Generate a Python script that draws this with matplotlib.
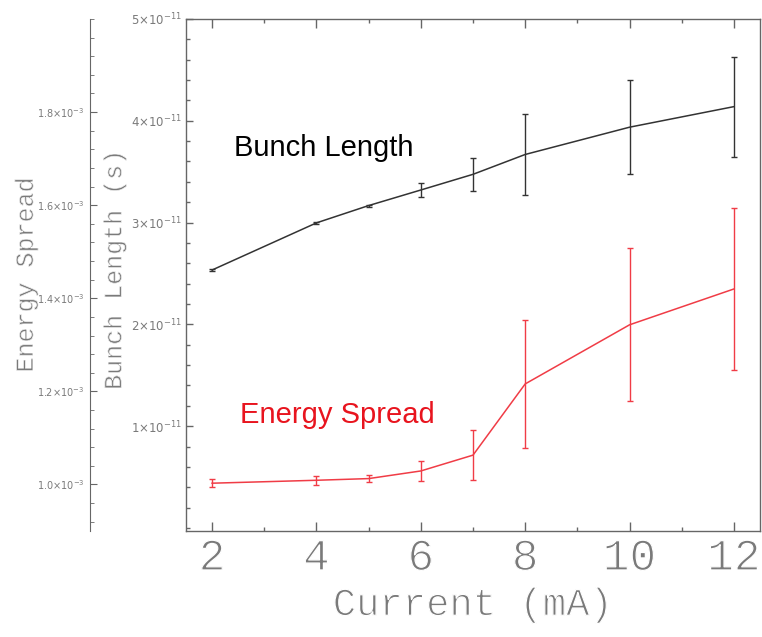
import numpy as np
import matplotlib
matplotlib.use('Agg')
import matplotlib.pyplot as plt
import matplotlib.patheffects as pe
from matplotlib.ticker import FixedLocator, FixedFormatter, MultipleLocator

# data
current = [2, 4, 5, 6, 7, 8, 10, 12]
bunch_length = [2.534e-11, 2.997e-11, 3.167e-11, 3.32e-11, 3.474e-11, 3.669e-11, 3.937e-11, 4.139e-11]
bunch_err = [0.008e-11, 0.012e-11, 0.01e-11, 0.065e-11, 0.16e-11, 0.40e-11, 0.46e-11, 0.49e-11]
energy_spread = [1.0027e-3, 1.009e-3, 1.0126e-3, 1.029e-3, 1.063e-3, 1.216e-3, 1.343e-3, 1.420e-3]
energy_err = [0.0086e-3, 0.0093e-3, 0.0082e-3, 0.022e-3, 0.053e-3, 0.137e-3, 0.164e-3, 0.174e-3]

x_ticks = [2, 4, 6, 8, 10, 12]
bl_ticks = [1e-11, 2e-11, 3e-11, 4e-11, 5e-11]
bl_labels = [r'$1{\times}10^{-11}$', r'$2{\times}10^{-11}$', r'$3{\times}10^{-11}$',
             r'$4{\times}10^{-11}$', r'$5{\times}10^{-11}$']
es_ticks = [1.0e-3, 1.2e-3, 1.4e-3, 1.6e-3, 1.8e-3]
es_labels = [r'$1.0{\times}10^{-3}$', r'$1.2{\times}10^{-3}$', r'$1.4{\times}10^{-3}$',
             r'$1.6{\times}10^{-3}$', r'$1.8{\times}10^{-3}$']

axis_col = '#666666'
label_col = '#7a7a7a'
mono = 'Liberation Mono'
# thin the glyphs a little by stroking a white outline over them
thin_big = [pe.Normal(), pe.Stroke(linewidth=0.9, foreground='white')]
thin_mid = [pe.Normal(), pe.Stroke(linewidth=0.5, foreground='white')]

fig = plt.figure(figsize=(7.62, 6.37), dpi=100)
ax = fig.add_axes([0.2441, 0.1664, 0.7533, 0.8038])

ax.errorbar(current, bunch_length, yerr=bunch_err, color='#333333', lw=1.1,
            elinewidth=1.0, capsize=2.5, capthick=1.0)
ax.set_xlim(1.5, 12.5)
ax.set_ylim(-0.03e-11, 5e-11)

for s in ax.spines.values():
    s.set_color(axis_col)
    s.set_linewidth(1.0)

ax.xaxis.set_major_locator(FixedLocator(x_ticks))
ax.xaxis.set_minor_locator(MultipleLocator(1))
ax.yaxis.set_major_locator(FixedLocator(bl_ticks))
ax.yaxis.set_major_formatter(FixedFormatter(bl_labels))
ax.yaxis.set_minor_locator(MultipleLocator(0.2e-11))
ax.tick_params(which='both', direction='in', top=True, right=True, colors=axis_col)
ax.tick_params(axis='x', which='major', length=6.5, width=1.0, labelsize=32,
               labelcolor=label_col, pad=5)
ax.tick_params(axis='x', which='minor', length=3, width=1.0)
ax.tick_params(axis='y', which='major', length=5, width=1.0, labelsize=8.5,
               labelcolor=label_col, pad=3)
ax.tick_params(axis='y', which='minor', length=3, width=1.0)
for t in ax.get_xticklabels():
    t.set_fontfamily(mono)
    t.set_path_effects(thin_big)

ax.set_xlabel('Current (mA)', fontsize=28, family=mono, color=label_col,
              labelpad=6, path_effects=thin_big)
ax.set_ylabel('Bunch Length (s)', fontsize=18, family=mono, color=label_col,
              path_effects=thin_mid)
ax.yaxis.set_label_coords(-0.104, 0.51)

# energy spread on a second axis with its spine moved left
ax2 = ax.twinx()
ax2.errorbar(current, energy_spread, yerr=energy_err, color='#f03c46', lw=1.1,
             elinewidth=1.0, capsize=2.5, capthick=1.0)
ax2.set_ylim(0.9e-3, 2.0e-3)
for k in ['top', 'right', 'bottom']:
    ax2.spines[k].set_visible(False)
ax2.spines['left'].set_position(('axes', -0.1672))
ax2.spines['left'].set_color(axis_col)
ax2.yaxis.set_ticks_position('left')
ax2.yaxis.set_label_position('left')
ax2.yaxis.set_major_locator(FixedLocator(es_ticks))
ax2.yaxis.set_major_formatter(FixedFormatter(es_labels))
ax2.yaxis.set_minor_locator(MultipleLocator(0.04e-3))
ax2.tick_params(axis='y', which='both', direction='in', colors=axis_col)
ax2.tick_params(axis='y', which='major', length=5, labelsize=7, labelcolor=label_col, pad=4)
ax2.tick_params(axis='y', which='minor', length=3)
ax2.set_ylabel('Energy Spread', fontsize=18, family=mono, color=label_col,
               path_effects=thin_mid)
ax2.yaxis.set_label_coords(-0.258, 0.5)

ax.text(2.42, 3.65e-11, 'Bunch Length', fontsize=21, family='Liberation Sans',
        color='black', va='baseline', ha='left')
ax.text(2.54, 1.027e-11, 'Energy Spread', fontsize=21, family='Liberation Sans',
        color='#e8141e', va='baseline', ha='left')

fig.savefig('out.png', dpi=100)
